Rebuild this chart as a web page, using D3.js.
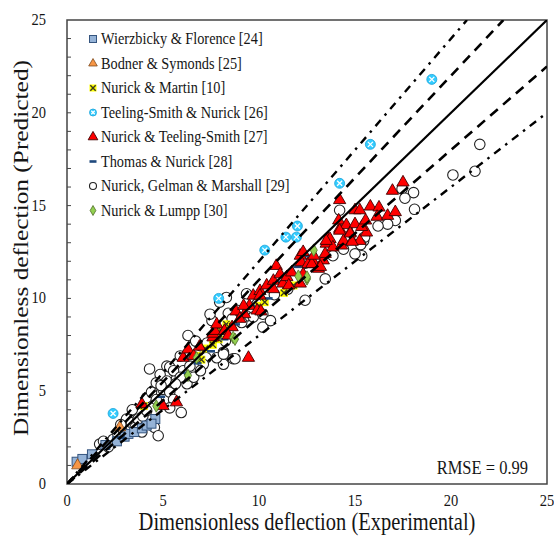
<!DOCTYPE html>
<html>
<head>
<meta charset="utf-8">
<script src="https://cdn.jsdelivr.net/npm/d3@7"></script>
<style>
  body { margin: 0; background: #fff; }
</style>
</head>
<body>
<svg id="chart" width="554" height="536"></svg>
<script>
// ---- data: [experimental, predicted] ----
const wierzbicky = [[0.5,1.2],[0.8,1.35],[1.3,1.6],[2.0,2.1],[2.6,2.3],[3.0,2.55],[3.2,2.7],[3.5,2.8],[3.9,3.0],[4.15,3.15],[4.6,3.5],[4.4,3.25]];
const bodner = [[0.55,1.0],[2.75,3.05]];
const nurickMartin = [[4.0,4.2],[6.8,6.9],[7.0,6.7],[7.2,7.3],[7.6,7.5],[7.9,7.8],[8.0,8.3],[8.3,8.6],[8.6,8.5],[10.0,9.6],[10.3,9.8],[11.3,10.3],[11.8,10.7]];
const teelingSmith = [[2.4,3.8],[7.9,10.0],[10.3,12.6],[11.4,13.3],[11.95,13.3],[12.0,13.9],[14.2,16.2],[15.8,18.3],[19.0,21.8]];
const nurickTeeling = [
  [3.9,4.3],[5.0,4.2],[5.7,4.4],[6.05,6.8],[6.3,7.25],[6.6,6.9],[7.6,7.9],[7.6,8.1],[7.7,8.25],[7.8,8.6],[8.2,8.25],[8.6,8.45],
  [8.8,9.3],[9.25,9.15],[9.5,9.6],[9.2,9.6],[9.9,9.35],[10.1,9.3],[9.45,6.8],[9.7,10.15],[10.05,10.4],[10.05,10.15],
  [10.4,10.7],[10.75,10.95],[10.75,10.5],[10.9,11.75],[11.1,11.3],[11.25,10.8],[11.45,11.15],[11.55,10.7],[11.7,11.4],
  [12.15,12.3],[12.2,11.95],[12.3,12.5],[12.55,11.85],[12.9,11.85],[13.35,12.05],[13.1,11.6],[12.15,10.8],[12.3,11.3],
  [12.75,11.85],[13.2,11.7],[12.85,12.3],[13.45,12.4],[13.5,12.95],[13.6,13.2],[13.7,13.2],[13.85,12.75],[14.3,12.85],
  [14.4,13.1],[14.85,13.1],[15.25,13.1],[14.2,13.75],[14.75,13.55],[15.6,13.55],[14.15,14.2],[14.55,13.95],[15.0,14.0],
  [15.35,13.85],[15.55,14.2],[15.0,14.75],[15.25,14.75],[15.8,14.95],[16.25,14.9],[16.15,14.4],[16.7,14.45],[17.1,14.65],
  [14.2,15.3],[16.95,15.8],[17.5,16.25],[14.2,13.65],[14.75,13.5],[14.85,13.05],[13.5,13.1],[8.4,8.0],[9.0,8.9],[6.9,7.4]
];
const thomasNurick = [[2.8,2.5],[4.9,4.7],[6.2,6.0],[6.8,6.5],[7.5,7.15],[8.2,7.8],[8.8,8.6],[9.6,9.6],[10.5,10.0],[11.2,10.9],[12.0,11.7],[12.6,12.3],[13.6,12.9]];
const gelman = [
  [1.7,2.15],[1.9,2.3],[2.15,2.0],[2.4,2.4],[2.65,2.7],[2.95,2.85],[3.1,3.5],[3.3,3.15],[3.35,3.3],[3.55,3.05],[3.65,3.85],
  [3.7,3.5],[3.9,2.8],[3.95,3.65],[4.15,3.95],[4.15,4.65],[4.55,3.05],[4.75,2.6],[5.95,3.85],[4.3,6.2],[4.85,5.9],[5.2,6.35],
  [4.65,5.45],[5.0,5.1],[4.4,4.95],[4.65,4.55],[5.35,4.95],[5.2,5.55],[5.7,5.65],[6.05,6.1],[6.4,6.35],[6.95,7.45],[7.25,6.8],
  [7.1,6.45],[8.15,6.45],[8.65,6.75],[8.15,7.1],[5.55,4.55],[6.25,5.4],[6.6,5.75],[5.35,4.1],[5.35,6.3],[5.55,6.1],[5.9,5.75],
  [5.65,5.4],[6.95,6.1],[7.8,6.8],[8.15,7.0],[8.75,6.75],[8.25,7.7],[7.55,8.8],[7.45,9.15],[7.95,9.8],[8.3,10.05],[9.35,10.25],
  [8.9,9.35],[9.35,9.05],[9.7,9.0],[10.2,9.15],[10.2,8.45],[10.6,8.8],[12.4,9.9],[13.45,11.05],[15.35,12.3],[15.45,13.1],
  [8.4,9.2],[8.6,8.9],[9.1,8.7],[9.9,9.7],[10.8,10.2],[11.5,10.5],[21.5,18.3],[21.25,16.85],[20.1,16.65],[18.05,15.7],
  [17.45,15.9],[17.6,15.4],[18.1,14.8],[17.1,14.2],[16.7,14.0],[16.2,13.9],[14.2,14.75],[15.5,13.3],[15.3,12.9],[14.4,12.65],
  [13.85,12.3],[15.0,12.4],[12.4,11.9],[6.3,8.0],[6.7,7.7],[5.9,6.9],[7.3,7.6],[4.9,5.3],[3.4,4.0],[2.8,3.2]
];
const lumpp = [[4.65,4.2],[6.75,6.8],[6.3,5.85],[8.65,7.9],[8.75,7.8],[12.05,11.2],[12.5,11.05],[12.85,12.6],[12.5,11.15]];

const seriesNames = ["Wierzbicky & Florence [24]", "Bodner & Symonds [25]", "Nurick & Martin [10]",
  "Teeling-Smith & Nurick [26]", "Nurick & Teeling-Smith [27]", "Thomas & Nurick [28]",
  "Nurick, Gelman & Marshall [29]", "Nurick & Lumpp [30]"];
const xTicks = [0, 5, 10, 15, 20, 25];
const yTicks = [0, 5, 10, 15, 20, 25];
const bandFactors = [1.2, 1.1, 1.0, 0.9, 0.8];

const FONT = "'Liberation Serif', 'Times New Roman', Times, serif";
const svg = d3.select("#chart");
const x = d3.scaleLinear().domain([0, 25]).range([67, 547]);
const y = d3.scaleLinear().domain([0, 25]).range([484, 20]);
const K = 1.18; // text in the picture is taller than wide

function stretchText(g, tx, ty, str, size, anchor) {
  return g.append("text")
    .attr("transform", "translate(" + tx + "," + ty + ") scale(1," + K + ")")
    .attr("font-family", FONT)
    .attr("font-size", size)
    .attr("fill", "#151515")
    .attr("text-anchor", anchor || "start")
    .text(str);
}

// marker painters
const markers = {
  square: (g, s) => g.append("rect").attr("x", -s/2).attr("y", -s/2).attr("width", s).attr("height", s)
      .attr("fill", "#95b3d7").attr("stroke", "#35557f").attr("stroke-width", 1),
  tri: (g, s) => g.append("path").attr("d", d3.symbol(d3.symbolTriangle, s*s*0.5)())
      .attr("fill", "#f79646").attr("stroke", "#7f4a1c").attr("stroke-width", 0.8),
  xbox: (g, s) => {
    g.append("rect").attr("x", -s/2).attr("y", -s/2).attr("width", s).attr("height", s).attr("fill", "#ffff00");
    g.append("path").attr("d", "M" + (-s/2.6) + "," + (-s/2.6) + "L" + (s/2.6) + "," + (s/2.6) +
        "M" + (s/2.6) + "," + (-s/2.6) + "L" + (-s/2.6) + "," + (s/2.6))
      .attr("stroke", "#3a3a20").attr("stroke-width", 1.4);
  },
  xcircle: (g, s) => {
    g.append("circle").attr("r", s/2).attr("fill", "#33ccff").attr("stroke", "#1aa3d9").attr("stroke-width", 0.8);
    g.append("path").attr("d", "M" + (-s/4) + "," + (-s/4) + "L" + (s/4) + "," + (s/4) +
        "M" + (s/4) + "," + (-s/4) + "L" + (-s/4) + "," + (s/4))
      .attr("stroke", "#ffffff").attr("stroke-width", 1.3);
  },
  redtri: (g, s) => g.append("path").attr("d", d3.symbol(d3.symbolTriangle, s*s*0.45)())
      .attr("fill", "#ff0000").attr("stroke", "#400000").attr("stroke-width", 0.9),
  dash: (g, s) => g.append("rect").attr("x", -s/2).attr("y", -1.3).attr("width", s).attr("height", 2.6)
      .attr("fill", "#1f497d"),
  ring: (g, s) => g.append("circle").attr("r", s/2).attr("fill", "#ffffff").attr("stroke", "#222").attr("stroke-width", 1.1),
  diamond: (g, s) => g.append("path").attr("d", d3.symbol(d3.symbolDiamond, s*s*0.45)())
      .attr("fill", "#92d050").attr("stroke", "#4f6b28").attr("stroke-width", 0.8)
};

function drawSeries(data, kind, size) {
  const g = svg.append("g");
  data.forEach(d => {
    const m = g.append("g").attr("transform", "translate(" + x(d[0]) + "," + y(d[1]) + ")");
    markers[kind](m, size);
  });
}

// plot frame
svg.append("rect").attr("x", 67).attr("y", 20).attr("width", 480).attr("height", 464)
  .attr("fill", "none").attr("stroke", "#444").attr("stroke-width", 1.5);

// minor ticks on the left axis, pointing inward
svg.append("g").selectAll("line").data(d3.range(1, 25)).join("line")
  .attr("x1", x(0)).attr("x2", x(0) + 4)
  .attr("y1", d => y(d)).attr("y2", d => y(d))
  .attr("stroke", "#444").attr("stroke-width", 1);

// points
drawSeries(gelman, "ring", 10.5);
drawSeries(wierzbicky, "square", 9);
drawSeries(bodner, "tri", 11);
drawSeries(nurickMartin, "xbox", 8);
drawSeries(thomasNurick, "dash", 8);
drawSeries(nurickTeeling, "redtri", 12);
drawSeries(lumpp, "diamond", 10);
drawSeries(teelingSmith, "xcircle", 10);

// 1:1, +-10% and +-20% lines
svg.append("clipPath").attr("id", "plotClip").append("rect")
  .attr("x", 67).attr("y", 20).attr("width", 480).attr("height", 464);
const lines = svg.append("g").attr("clip-path", "url(#plotClip)");
bandFactors.forEach(f => {
  const xEnd = Math.min(25, 25 / f);
  const ln = lines.append("line")
    .attr("x1", x(0)).attr("y1", y(0))
    .attr("x2", x(xEnd)).attr("y2", y(xEnd * f))
    .attr("stroke", "#000");
  if (f === 1) ln.attr("stroke-width", 2.2);
  else if (f === 1.1 || f === 0.9) ln.attr("stroke-width", 2.6).attr("stroke-dasharray", "10,7");
  else ln.attr("stroke-width", 2.4).attr("stroke-dasharray", "8,6,2.5,6");
});

// tick labels
const axisG = svg.append("g");
xTicks.forEach(t => stretchText(axisG, x(t), 506, String(t), 14.5, "middle"));
yTicks.forEach(t => stretchText(axisG, 46, y(t) + 5, String(t), 14.5, "end"));

// axis titles
stretchText(axisG, x(12.5), 530, "Dimensionless deflection (Experimental)", 20.5, "middle");
axisG.append("text")
  .attr("transform", "translate(28," + (y(12.5) - 4) + ") scale(1," + K + ") rotate(-90)")
  .attr("font-family", FONT)
  .attr("font-size", 21.5).attr("fill", "#151515").attr("text-anchor", "middle")
  .text("Dimensionless deflection (Predicted)");

// RMSE note
stretchText(axisG, 528, 474, "RMSE = 0.99", 16.5, "end");

// legend
const legendKinds = [["square", 7], ["tri", 8], ["xbox", 7], ["xcircle", 7], ["redtri", 9.5], ["dash", 7], ["ring", 7], ["diamond", 8]];
const legend = svg.append("g");
seriesNames.forEach((name, i) => {
  const cy = 39 + i * 24.5;
  const m = legend.append("g").attr("transform", "translate(93," + cy + ")");
  markers[legendKinds[i][0]](m, legendKinds[i][1]);
  stretchText(legend, 101, cy + 5, name, 14.3, "start");
});
</script>
</body>
</html>
